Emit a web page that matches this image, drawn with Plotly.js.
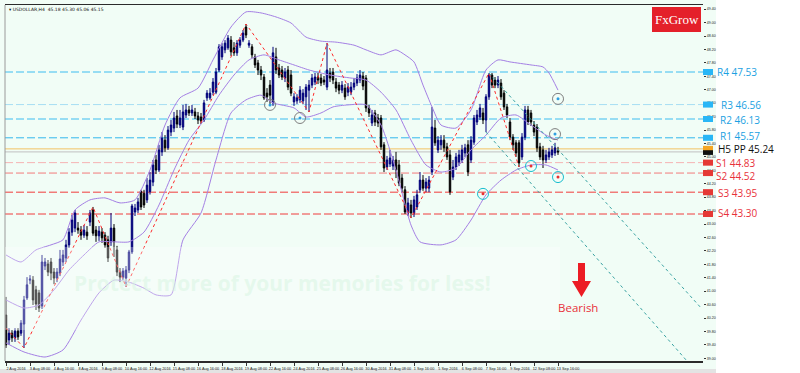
<!DOCTYPE html>
<html><head><meta charset="utf-8">
<script src="https://cdn.plot.ly/plotly-3.0.1.min.js"></script>
<style>html,body{margin:0;padding:0;background:#fff;}#chart{width:800px;height:373px;}</style>
</head><body><div id="chart"></div>
<script>
const symbolTitle = "\u25BE USDOLLAR,H4  45.18 45.30 45.06 45.15";
const timeLabels = ["2 Aug 2016","3 Aug 08:00","4 Aug 16:00","8 Aug 2016","9 Aug 08:00","10 Aug 16:00","12 Aug 2016","15 Aug 08:00","16 Aug 16:00","18 Aug 2016","19 Aug 08:00","22 Aug 16:00","24 Aug 2016","25 Aug 08:00","26 Aug 16:00","30 Aug 2016","31 Aug 08:00","1 Sep 16:00","5 Sep 2016","6 Sep 08:00","7 Sep 16:00","9 Sep 2016","12 Sep 08:00","13 Sep 16:00"];
const labelBars = [0,8,16,24,32,40,48,56,64,72,80,88,96,104,112,120,128,136,144,152,160,168,176,184];

const openPrices = [40.29,39.55,39.75,39.61,39.81,39.75,40.02,40.80,41.33,41.33,
41.04,40.95,40.56,41.75,41.81,41.87,41.57,41.39,41.54,41.87,
41.99,42.38,42.76,42.88,42.88,42.82,42.67,42.76,43.06,43.42,
42.82,42.65,42.76,42.67,42.53,42.47,42.88,42.23,41.57,41.42,
41.39,41.63,42.17,43.36,43.42,43.97,43.91,43.72,43.97,44.25,
44.91,44.61,45.15,45.50,45.27,45.74,45.86,46.22,45.95,45.89,
46.25,46.40,46.31,46.34,46.22,46.19,46.10,46.76,46.76,46.93,
46.93,47.59,47.98,48.19,48.25,48.48,48.25,48.10,48.33,48.48,
48.87,48.33,48.28,47.98,47.80,47.59,47.38,46.90,47.14,46.61,
47.98,47.65,47.59,47.35,47.59,47.44,46.64,46.67,46.70,46.67,
46.79,46.99,47.14,47.23,47.38,47.35,47.29,47.08,47.50,47.53,
47.23,47.14,46.99,47.05,46.93,46.93,47.08,47.20,47.29,47.41,
47.35,46.46,46.01,46.31,46.16,46.16,45.36,44.70,44.79,44.73,
44.91,44.76,44.37,44.02,43.33,43.57,43.33,43.51,44.02,44.31,
44.07,44.07,44.55,45.86,45.21,45.36,45.50,45.30,45.06,44.40,
44.70,44.85,44.91,45.12,45.36,44.91,45.44,46.04,46.19,46.31,
46.10,46.79,47.44,47.29,47.14,47.20,46.90,46.49,46.04,45.59,
45.42,45.42,45.00,45.59,46.40,46.31,45.95,45.89,45.30,45.21,
44.91,45.00,45.06,45.12,45.18];
const highPrices = [40.83,39.90,39.84,39.90,39.90,40.14,40.86,41.42,41.48,41.45,
41.16,41.04,42.08,41.99,41.93,41.99,41.69,41.69,42.23,42.23,
42.53,42.88,43.27,43.42,43.06,42.94,42.97,42.94,43.42,43.51,
42.94,42.94,42.88,42.76,42.65,43.33,43.00,42.35,41.69,41.69,
41.75,42.23,43.60,43.60,43.78,44.02,44.02,44.37,44.55,44.91,
45.06,45.36,45.74,45.65,45.92,46.10,46.34,46.40,46.40,46.55,
46.58,46.52,46.55,46.46,46.34,46.31,46.70,46.99,47.05,47.35,
47.65,48.36,48.39,48.48,48.63,48.60,48.42,48.48,48.57,48.78,
48.96,48.48,48.36,48.07,47.89,47.71,47.47,47.05,47.29,48.28,
48.25,47.77,47.71,47.65,47.71,47.59,46.90,46.87,47.11,47.02,
47.17,47.29,47.47,47.50,47.50,47.47,47.41,48.39,47.65,47.65,
47.35,47.23,47.26,47.17,47.20,47.23,47.35,47.47,47.59,47.53,
47.44,46.55,46.40,46.40,46.28,46.25,45.44,45.03,45.21,45.03,
45.15,44.91,44.49,44.13,43.78,43.72,43.84,44.02,44.55,44.46,
44.37,44.43,46.49,46.10,45.62,45.65,45.65,45.42,45.21,44.91,
45.12,45.21,45.36,45.39,45.50,45.62,46.25,46.40,46.58,46.46,
46.87,47.50,47.50,47.38,47.41,47.32,46.99,46.58,46.16,45.68,
45.50,45.50,45.71,46.52,46.52,46.40,46.07,45.98,45.42,45.33,
45.21,45.27,45.33,45.42,45.30];
const lowPrices = [39.31,39.40,39.49,39.49,39.55,39.67,39.31,40.74,41.21,40.59,
40.44,40.38,40.47,41.63,41.45,41.33,41.21,41.27,41.45,41.75,
41.87,42.29,42.65,42.76,42.71,42.53,42.59,42.53,42.94,42.65,
42.47,42.50,42.44,42.29,41.87,42.35,42.02,41.45,41.27,41.33,
41.13,41.54,42.11,43.24,43.33,43.42,43.48,43.63,43.88,44.13,
44.49,44.55,45.03,45.15,45.21,45.62,45.74,45.86,45.86,45.80,
46.16,46.22,46.22,46.13,45.98,45.98,46.04,46.67,46.70,46.84,
46.87,47.53,47.89,48.09,48.19,48.01,48.01,48.01,48.25,48.42,
48.54,48.25,47.95,47.65,47.44,47.29,46.70,46.64,46.58,46.52,
47.47,47.35,47.29,47.23,46.99,46.81,46.52,46.58,46.61,46.58,
46.40,46.34,47.05,47.14,47.17,47.11,47.14,46.99,47.23,47.17,
46.93,46.87,46.90,46.70,46.81,46.84,46.99,47.11,47.20,46.99,
46.34,46.19,45.92,45.92,45.89,45.21,44.55,44.61,44.70,44.61,
44.37,44.13,43.95,43.30,43.24,43.18,43.21,43.42,43.93,43.99,
43.95,43.95,44.46,45.33,45.12,45.21,45.15,44.91,43.87,44.31,
44.61,44.73,44.82,45.00,44.43,44.82,45.36,45.95,46.10,45.98,
45.74,46.70,47.05,47.05,47.05,46.70,46.40,46.16,45.50,45.21,
45.00,44.70,44.91,45.50,45.95,45.92,45.62,45.15,44.91,44.67,
44.82,44.91,44.97,45.03,45.06];
const closePrices = [39.40,39.75,39.61,39.81,39.64,40.05,40.74,41.19,41.36,40.74,
40.62,40.50,41.87,41.87,41.57,41.54,41.39,41.57,41.96,42.08,
42.38,42.76,43.12,43.33,42.82,42.67,42.82,42.65,43.33,42.73,
42.65,42.79,42.59,42.38,41.99,42.88,42.47,41.57,41.42,41.60,
41.63,42.17,43.54,43.48,43.66,43.51,43.57,44.16,44.31,44.76,
44.61,45.21,45.56,45.27,45.80,45.95,46.16,45.98,46.16,46.34,
46.40,46.31,46.40,46.22,46.10,46.07,46.61,46.90,46.90,47.23,
47.53,48.28,48.28,48.39,48.54,48.13,48.10,48.39,48.48,48.69,
48.63,48.39,48.04,47.74,47.59,47.44,46.76,46.79,46.84,48.10,
47.59,47.44,47.38,47.53,47.08,46.90,46.79,46.76,46.99,46.90,
47.08,47.14,47.35,47.38,47.29,47.20,47.23,47.59,47.35,47.29,
47.05,46.99,47.14,46.79,47.08,47.08,47.20,47.35,47.44,47.11,
46.46,46.31,46.25,46.04,46.01,45.30,44.67,44.91,44.97,44.91,
44.61,44.22,44.07,43.36,43.63,43.33,43.72,43.87,44.31,44.07,
44.25,44.31,45.89,45.42,45.50,45.50,45.27,45.00,43.96,44.70,
45.00,45.06,45.21,45.27,44.55,45.50,46.16,46.25,46.46,46.10,
46.79,47.44,47.14,47.14,47.29,46.79,46.49,46.25,45.59,45.36,
45.12,44.82,45.59,46.40,46.04,46.04,45.74,45.27,45.00,44.91,
45.06,45.15,45.21,45.27,45.15];

const bbUpperBars = [0,5,10,15,19,23,28,33,38,43,48,53,58,64,69,75,80,85,90,95,100,105,110,116,120,125,130,133,136,139,142,145,150,155,160,164,168,175,179,181,184];
const bbUpperVals = [42.08,41.87,42.23,42.38,42.53,43.42,43.72,43.78,43.63,43.72,44.61,45.95,46.76,47.05,47.89,48.87,49.32,49.29,49.17,48.99,48.57,48.45,48.42,48.33,48.19,48.04,48.19,48.04,47.83,47.14,46.49,45.95,45.86,46.40,47.59,47.89,47.83,47.74,47.68,47.50,46.99];
const bbMiddleBars = [0,6,11,16,21,26,31,36,41,46,51,56,61,66,71,76,81,86,91,96,101,108,115,120,125,130,135,140,145,150,155,160,165,170,175,180,184];
const bbMiddleVals = [40.74,40.50,40.59,41.04,41.63,42.08,42.47,42.47,42.47,42.76,43.57,44.61,45.50,46.10,46.84,47.44,47.89,48.04,47.89,47.74,47.59,47.44,47.35,47.29,46.93,46.40,45.50,44.76,44.55,44.67,45.21,45.65,46.16,46.25,45.95,45.65,45.50];
const bbLowerBars = [0,6,13,19,25,31,36,41,46,50,55,59,65,70,75,80,85,89,96,100,105,109,114,120,125,130,135,138,145,150,155,160,165,170,175,180,184];
const bbLowerVals = [39.46,39.19,39.04,39.25,40.14,40.95,41.33,41.27,41.09,40.89,40.89,42.53,43.33,44.91,46.31,46.70,46.84,46.61,46.46,46.19,46.31,46.49,46.55,46.55,45.95,44.61,42.97,42.47,42.38,42.53,43.12,43.87,44.31,44.61,44.76,44.76,44.61];

const zigzagBars = [0,6,29,40,80,101,107,135,161,171];
const zigzagVals = [39.90,39.31,43.51,41.13,48.96,46.34,48.39,43.18,47.50,44.70];
const channelUpperBars = [161,232];
const channelUpperVals = [47.50,40.47];
const channelLowerBars = [160,227];
const channelLowerVals = [45.74,38.92];

const blueSignalBars = [88,98,183,184];
const blueSignalVals = [46.55,46.16,45.68,46.73];
const redSignalBars = [159,175,184];
const redSignalVals = [43.90,44.73,44.40];

const pivotNames = ["R4","R3","R2","R1","H5 PP","S1","S2","S3","S4"];
const pivotValues = [47.53,46.56,46.13,45.57,45.24,44.83,44.52,43.95,43.30];

const signalText = "Bearish";
const brandText = "FxGrow";
const watermarkText = "Protect more of your memories for less!";

// ---- styling / geometry ----
const W=800,H=373,ML=5,MR=97,MT=5,MB=12;
const PW=W-ML-MR, PH=H-MT-MB;
const px = x => (x-ML)/PW;
const py = y => (H-MB-y)/PH;
const MINT = '#f1fdf6';
const pivotLineColors = ['#3dbdf0','#a6def3','#3dbdf0','#33b7ee','#f3c363','#f5b3b3','#f27a7a','#f03c3c','#f03c3c'];
const pivotTextColors = ['#1ba1e2','#1ba1e2','#1ba1e2','#1ba1e2','#111111','#e8313a','#e8313a','#e8313a','#e8313a'];
const pivotTagColors = ['#29b6f6','#29b6f6','#29b6f6','#29b6f6','#f5a623','#e53935','#e53935','#e53935','#e53935'];
const pivotLabelX = [718,722,721,721,719,717,717,719,719];
const pivotLabelY = [72,105,119.5,135.5,149,162.5,176,193,213];

const bars = openPrices.map((_, i) => i);
const BB = '#a47fe4';

const traces = [
  {type:'candlestick', x:bars, open:openPrices, high:highPrices, low:lowPrices, close:closePrices,
   increasing:{line:{color:'#00007a',width:1}, fillcolor:'#00007a'},
   decreasing:{line:{color:'#000000',width:1}, fillcolor:'#000000'},
   whiskerwidth:0, hoverinfo:'skip'},
  {type:'scatter', mode:'lines', x:bbUpperBars, y:bbUpperVals, line:{color:BB,width:1,shape:'spline',smoothing:0.6}, hoverinfo:'skip'},
  {type:'scatter', mode:'lines', x:bbMiddleBars, y:bbMiddleVals, line:{color:BB,width:1,shape:'spline',smoothing:0.6}, hoverinfo:'skip'},
  {type:'scatter', mode:'lines', x:bbLowerBars, y:bbLowerVals, line:{color:BB,width:1,shape:'spline',smoothing:0.6}, hoverinfo:'skip'},
  {type:'scatter', mode:'lines', x:zigzagBars, y:zigzagVals, line:{color:'#ff2a2a',width:1,dash:'dot'}, hoverinfo:'skip'},
  {type:'scatter', mode:'lines', x:channelUpperBars, y:channelUpperVals, line:{color:'#3aa3a3',width:1,dash:'dot'}, hoverinfo:'skip'},
  {type:'scatter', mode:'lines', x:channelLowerBars, y:channelLowerVals, line:{color:'#3aa3a3',width:1,dash:'dot'}, hoverinfo:'skip'},
  {type:'scatter', mode:'markers', x:blueSignalBars, y:blueSignalVals, marker:{symbol:'circle-open',size:11,line:{color:'#7ccdf0',width:1}}, hoverinfo:'skip'},
  {type:'scatter', mode:'markers', x:blueSignalBars, y:blueSignalVals, marker:{symbol:'circle',size:3,color:'#2f9fe0'}, hoverinfo:'skip'},
  {type:'scatter', mode:'markers', x:redSignalBars, y:redSignalVals, marker:{symbol:'circle-open',size:11,line:{color:'#f5a0a0',width:1}}, hoverinfo:'skip'},
  {type:'scatter', mode:'markers', x:redSignalBars, y:redSignalVals, marker:{symbol:'circle',size:3,color:'#e83030'}, hoverinfo:'skip'}
];

const shapes = [
  {type:'rect', xref:'paper', yref:'paper', x0:px(0), x1:px(716), y0:py(369), y1:py(0), fillcolor:MINT, line:{width:0}, layer:'below'},
  {type:'rect', xref:'paper', yref:'paper', x0:px(0), x1:px(716), y0:py(373), y1:py(369), fillcolor:'#e3e3e3', line:{width:0}, layer:'below'},
  {type:'line', xref:'paper', yref:'paper', x0:0, x1:0, y0:0, y1:1, line:{color:'#9a9a9a',width:1}}
];
pivotValues.forEach((v, k) => {
  shapes.push({type:'line', xref:'paper', yref:'y', x0:0, x1:1, y0:v, y1:v,
    line:{color:pivotLineColors[k], width:1, dash: k===4 ? 'solid' : '8px,3px'}, layer:'below'});
  shapes.push({type:'rect', xref:'paper', yref:'y', x0:1.0, x1:px(713), y0:v-0.09, y1:v+0.09,
    fillcolor:pivotTagColors[k], line:{width:0}});
});
const lastClose = closePrices[closePrices.length-1];
shapes.push({type:'line', xref:'paper', yref:'y', x0:0, x1:1, y0:lastClose, y1:lastClose, line:{color:'#c0c0c0',width:1}, layer:'below'});
shapes.push({type:'rect', xref:'paper', yref:'y', x0:1.0, x1:px(713), y0:lastClose-0.09, y1:lastClose+0.05, fillcolor:'#111111', line:{width:0}});
// light overlay band (image watermark)
shapes.push({type:'rect', xref:'paper', yref:'paper', x0:px(5), x1:px(560), y0:py(330), y1:py(247), fillcolor:'rgba(255,255,255,0.3)', line:{width:0}, layer:'above'});
// brand box
shapes.push({type:'rect', xref:'paper', yref:'paper', x0:px(652), x1:px(701), y0:py(32), y1:py(7), fillcolor:'#e4202a', line:{width:0}});
// bearish arrow
const arrowPts = [[578,263],[585,263],[585,281],[591,281],[581.5,297],[572,281],[578,281]];
shapes.push({type:'path', xref:'paper', yref:'paper', layer:'above',
  path: 'M' + arrowPts.map(p => px(p[0]).toFixed(5)+','+py(p[1]).toFixed(5)).join(' L') + ' Z',
  fillcolor:'#ec1c24', line:{width:0}});

const annotations = [
  {xref:'paper', yref:'paper', x:px(7), y:py(9), text:symbolTitle, showarrow:false, xanchor:'left', yanchor:'middle',
   font:{family:'DejaVu Sans', size:4.5, color:'#111'}},
  {xref:'paper', yref:'paper', x:px(676.5), y:py(19.5), text:brandText, showarrow:false, xanchor:'center', yanchor:'middle',
   font:{family:'Liberation Serif', size:13, color:'#ffffff'}},
  {xref:'paper', yref:'paper', x:px(578), y:py(307), text:signalText, showarrow:false, xanchor:'center', yanchor:'middle',
   font:{family:'Open Sans', size:11.5, color:'#e8313a'}},
  {xref:'paper', yref:'paper', x:px(282), y:py(283), text:'<b>'+watermarkText+'</b>', showarrow:false, xanchor:'center', yanchor:'middle',
   font:{family:'Open Sans', size:21, color:'rgba(215,245,225,0.55)'}}
];
pivotValues.forEach((v, k) => {
  annotations.push({xref:'paper', yref:'paper', x:px(pivotLabelX[k]-1), y:py(pivotLabelY[k]), text:pivotNames[k]+' '+v.toFixed(2),
    showarrow:false, xanchor:'left', yanchor:'middle', borderpad:0, borderwidth:0,
    font:{family:'Open Sans', size:10, color:pivotTextColors[k]}});
});

const layout = {
  width:W, height:H, margin:{l:ML, r:MR, t:MT, b:MB},
  paper_bgcolor:'#ffffff', plot_bgcolor:MINT, showlegend:false, hovermode:false,
  xaxis:{range:[-1/3, 232.33], tickmode:'array', tickvals:labelBars, ticktext:timeLabels, tickangle:0,
    tickfont:{family:'Liberation Sans Narrow, Liberation Sans', size:3.8, color:'#222'}, ticks:'outside', ticklen:3, tickcolor:'#333',
    ticklabelshift:10, ticklabelstandoff:0,
    showline:true, linecolor:'#2b2b2b', linewidth:1.5, mirror:true, showgrid:false, zeroline:false,
    rangeslider:{visible:false}, fixedrange:true},
  yaxis:{side:'right', range:[38.921, 49.526], tickmode:'linear', tick0:39.0, dtick:0.4, tickformat:'.2f',
    tickfont:{family:'Liberation Sans Narrow, Liberation Sans', size:3.6, color:'#222'}, ticks:'outside', ticklen:2, tickcolor:'#333',
    ticklabelstandoff:0,
    showgrid:false, zeroline:false, showline:false, fixedrange:true},
  shapes:shapes, annotations:annotations
};

Plotly.newPlot('chart', traces, layout, {staticPlot:true, displayModeBar:false});
</script>
</body></html>
